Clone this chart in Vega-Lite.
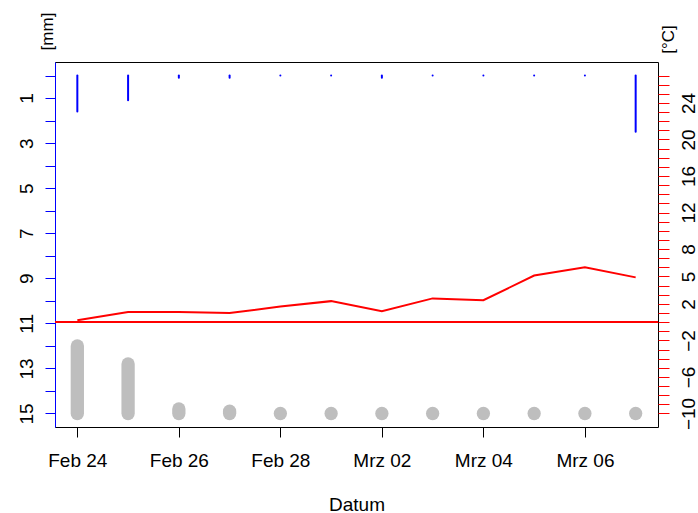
{
  "$schema": "https://vega.github.io/schema/vega-lite/v6.json",
  "width": 603,
  "height": 365,
  "autosize": {"type": "none"},
  "padding": {"left": 55, "top": 62, "right": 40, "bottom": 86},
  "background": "white",
  "config": {
    "font": "Liberation Sans",
    "view": {"stroke": "#000000", "strokeWidth": 1},
    "axis": {
      "grid": false,
      "labelFont": "Liberation Sans",
      "titleFont": "Liberation Sans",
      "labelColor": "#000000",
      "titleColor": "#000000",
      "labelFontSize": 19,
      "titleFontSize": 19,
      "titleFontWeight": "normal",
      "labelOverlap": false,
      "labelFlush": false,
      "labelBound": false,
      "tickWidth": 1
    }
  },
  "data": {
    "values": [
      {"datum": "2023-02-24", "niederschlag": 1.6, "temperatur": 0.2, "schnee": 12.0},
      {"datum": "2023-02-25", "niederschlag": 1.1, "temperatur": 1.1, "schnee": 12.8},
      {"datum": "2023-02-26", "niederschlag": 0.1, "temperatur": 1.1, "schnee": 14.8},
      {"datum": "2023-02-27", "niederschlag": 0.1, "temperatur": 1.0, "schnee": 14.9},
      {"datum": "2023-02-28", "niederschlag": 0.0, "temperatur": 1.7, "schnee": 15.0},
      {"datum": "2023-03-01", "niederschlag": 0.0, "temperatur": 2.3, "schnee": 15.0},
      {"datum": "2023-03-02", "niederschlag": 0.1, "temperatur": 1.2, "schnee": 15.0},
      {"datum": "2023-03-03", "niederschlag": 0.0, "temperatur": 2.6, "schnee": 15.0},
      {"datum": "2023-03-04", "niederschlag": 0.0, "temperatur": 2.4, "schnee": 15.0},
      {"datum": "2023-03-05", "niederschlag": 0.0, "temperatur": 5.1, "schnee": 15.0},
      {"datum": "2023-03-06", "niederschlag": 0.0, "temperatur": 6.0, "schnee": 15.0},
      {"datum": "2023-03-07", "niederschlag": 2.5, "temperatur": 4.9, "schnee": 15.0}
    ]
  },
  "layer": [
    {
      "mark": {"type": "rule", "color": "#BEBEBE", "strokeWidth": 13.3, "strokeCap": "round"},
      "encoding": {
        "x": {
          "field": "datum",
          "type": "temporal",
          "scale": {
            "type": "utc",
            "domain": [
              {"year": 2023, "month": 2, "date": 23, "hours": 13, "minutes": 26, "seconds": 24, "utc": true},
              {"year": 2023, "month": 3, "date": 7, "hours": 10, "minutes": 33, "seconds": 36, "utc": true}
            ]
          },
          "axis": {
            "orient": "bottom",
            "title": "Datum",
            "domain": false,
            "tickColor": "#000000",
            "tickSize": 10,
            "labelPadding": 14,
            "labelAlign": "center",
            "values": [
              {"year": 2023, "month": 2, "date": 24, "utc": true},
              {"year": 2023, "month": 2, "date": 26, "utc": true},
              {"year": 2023, "month": 2, "date": 28, "utc": true},
              {"year": 2023, "month": 3, "date": 2, "utc": true},
              {"year": 2023, "month": 3, "date": 4, "utc": true},
              {"year": 2023, "month": 3, "date": 6, "utc": true}
            ],
            "labelExpr": "(utcFormat(datum.value, '%m') == '02' ? 'Feb ' : 'Mrz ') + utcFormat(datum.value, '%d')",
            "titleBaseline": "alphabetic",
            "titleY": 83
          }
        },
        "y": {
          "field": "schnee",
          "type": "quantitative",
          "scale": {"domain": [-0.6, 15.6], "reverse": true, "nice": false, "zero": false},
          "axis": {
            "orient": "left",
            "title": "[mm]",
            "titleFontSize": 17,
            "titleAngle": 270,
            "titleAlign": "center",
            "titleBaseline": "alphabetic",
            "titleX": -3,
            "titleY": -31,
            "domain": true,
            "domainColor": "#0000FF",
            "tickColor": "#0000FF",
            "tickSize": 10,
            "labelAngle": 270,
            "labelAlign": "center",
            "labelBaseline": "alphabetic",
            "labelPadding": 13,
            "values": [0, 1, 2, 3, 4, 5, 6, 7, 8, 9, 10, 11, 12, 13, 14, 15],
            "labelExpr": "datum.value % 2 == 1 ? datum.label : ''"
          }
        },
        "y2": {"datum": 15}
      }
    },
    {
      "mark": {"type": "rule", "color": "#0000FF", "strokeWidth": 2, "strokeCap": "round"},
      "encoding": {
        "x": {"field": "datum", "type": "temporal"},
        "y": {
          "field": "niederschlag",
          "type": "quantitative",
          "scale": {"domain": [-0.6, 15.6], "reverse": true, "nice": false, "zero": false},
          "axis": null
        },
        "y2": {"datum": 0}
      }
    },
    {
      "mark": {"type": "line", "color": "#FF0000", "strokeWidth": 2},
      "encoding": {
        "x": {"field": "datum", "type": "temporal"},
        "y": {
          "field": "temperatur",
          "type": "quantitative",
          "scale": {"domain": [-11.48, 28.48], "nice": false, "zero": false},
          "axis": {
            "orient": "right",
            "title": "[°C]",
            "titleFontSize": 17,
            "titleAngle": 270,
            "titleAlign": "center",
            "titleBaseline": "alphabetic",
            "titleX": 15,
            "titleY": -23,
            "domain": false,
            "tickColor": "#FF0000",
            "tickSize": 11,
            "labelAngle": 270,
            "labelAlign": "center",
            "labelBaseline": "alphabetic",
            "labelPadding": 25,
            "values": [-10, -9, -8, -7, -6, -5, -4, -3, -2, -1, 0, 1, 2, 3, 4, 5, 6, 7, 8, 9, 10, 11, 12, 13, 14, 15, 16, 17, 18, 19, 20, 21, 22, 23, 24, 25, 26, 27],
            "labelExpr": "indexof([-10, -6, -2, 2, 5, 8, 12, 16, 20, 24], datum.value) >= 0 ? datum.label : ''"
          }
        }
      }
    },
    {
      "mark": {"type": "rule", "color": "#FF0000", "strokeWidth": 1},
      "encoding": {
        "y": {
          "datum": 0,
          "type": "quantitative",
          "scale": {"domain": [-11.48, 28.48], "nice": false, "zero": false},
          "axis": null
        }
      }
    }
  ],
  "resolve": {"scale": {"y": "independent"}, "axis": {"y": "independent"}}
}
